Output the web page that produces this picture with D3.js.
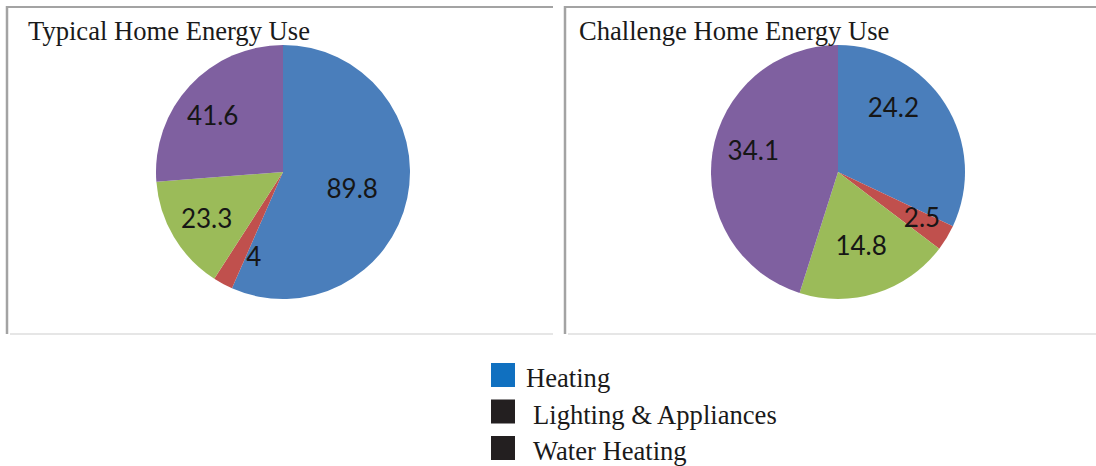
<!DOCTYPE html>
<html>
<head>
<meta charset="utf-8">
<script src="https://cdn.jsdelivr.net/npm/d3@7"></script>
<style>
  html, body { margin: 0; padding: 0; background: #fff; }
  svg { display: block; }
</style>
</head>
<body>
<svg id="chart" width="1096" height="466"></svg>
<script>
// Energy use per end-use, two homes
const chartTitles = ["Typical Home Energy Use", "Challenge Home Energy Use"];
const typicalValues = [89.8, 4, 23.3, 41.6];
const challengeValues = [24.2, 2.5, 14.8, 34.1];
const sliceColors = ["#4a7ebb", "#c0504d", "#9bbb59", "#7f60a0"];
const legendLabels = ["Heating", "Lighting & Appliances", "Water Heating"];
const legendColors = ["#1070c0", "#231f20", "#231f20"];

// Label placement inside each slice: fraction of radius and angular nudge (deg)
const typicalLabelRadius = [0.56, 0.70, 0.70, 0.71];
const typicalLabelNudge = [1.5, -9, 0, -4];
const challengeLabelRadius = [0.67, 0.75, 0.60, 0.69];
const challengeLabelNudge = [-17, -3, 0, 6];

const svg = d3.select("#chart");

const panels = [
  { x0: 7, x1: 553, cx: 283, values: typicalValues, title: chartTitles[0],
    titleX: 28, rFrac: typicalLabelRadius, nudge: typicalLabelNudge },
  { x0: 565, x1: 1096, cx: 838, values: challengeValues, title: chartTitles[1],
    titleX: 579, rFrac: challengeLabelRadius, nudge: challengeLabelNudge }
];

const frameTop = 7, frameBottom = 334, pieCy = 172, radius = 127;

const pie = d3.pie().sort(null).value(d => d);
const arc = d3.arc().innerRadius(0).outerRadius(radius);

panels.forEach(p => {
  const g = svg.append("g");

  // panel frame: darker top/left edge, faint bottom edge
  g.append("line").attr("x1", p.x0).attr("x2", p.x1).attr("y1", frameTop).attr("y2", frameTop)
    .attr("stroke", "#a3a3a3").attr("stroke-width", 2);
  g.append("line").attr("x1", p.x0).attr("x2", p.x0).attr("y1", frameTop - 1).attr("y2", frameBottom)
    .attr("stroke", "#a3a3a3").attr("stroke-width", 2.5);
  g.append("line").attr("x1", p.x0 + 3).attr("x2", p.x1).attr("y1", frameBottom).attr("y2", frameBottom)
    .attr("stroke", "#e6e6e6").attr("stroke-width", 2);

  const arcs = pie(p.values);
  const pg = g.append("g").attr("transform", `translate(${p.cx},${pieCy})`);

  pg.selectAll("path.slice")
    .data(arcs)
    .join("path")
    .attr("class", "slice")
    .attr("d", arc)
    .attr("fill", (d, i) => sliceColors[i]);

  pg.selectAll("text.value")
    .data(arcs)
    .join("text")
    .attr("class", "value")
    .attr("transform", (d, i) => {
      const a = (d.startAngle + d.endAngle) / 2 + p.nudge[i] * Math.PI / 180;
      const rr = radius * p.rFrac[i];
      return `translate(${rr * Math.sin(a)},${-rr * Math.cos(a)})`;
    })
    .attr("text-anchor", "middle")
    .attr("dominant-baseline", "central")
    .attr("font-family", "Lato, 'Open Sans', sans-serif")
    .attr("font-size", 26)
    .attr("fill", "#161616")
    .text(d => d.data);

  g.append("text")
    .attr("x", p.titleX)
    .attr("y", 40)
    .attr("font-family", "'Liberation Serif', 'Times New Roman', serif")
    .attr("font-size", 26.6)
    .attr("fill", "#1a1a1a")
    .text(p.title);
});

// Legend
const legend = svg.append("g");
const legendRows = legend.selectAll("g")
  .data(legendLabels)
  .join("g")
  .attr("transform", (d, i) => `translate(491,${363 + i * 36.5})`);

legendRows.append("rect")
  .attr("width", 24).attr("height", 24)
  .attr("fill", (d, i) => legendColors[i]);

legendRows.append("text")
  .attr("x", (d, i) => i === 0 ? 35 : 42)
  .attr("y", 24)
  .attr("font-family", "'Liberation Serif', 'Times New Roman', serif")
  .attr("font-size", 26.6)
  .attr("fill", "#1a1a1a")
  .text(d => d);
</script>
</body>
</html>
